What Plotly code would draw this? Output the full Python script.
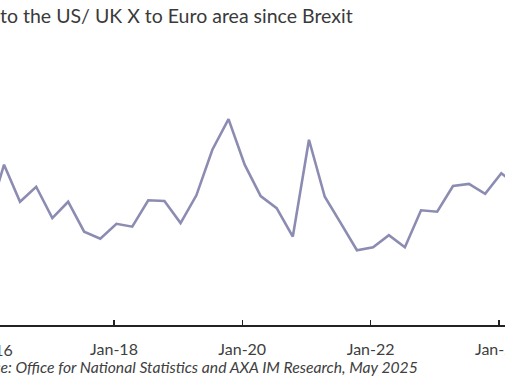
import plotly.graph_objects as go

quarters = ["2016-01-15", "2016-04-15", "2016-07-15", "2016-10-15",
            "2017-01-15", "2017-04-15", "2017-07-15", "2017-10-15",
            "2018-01-15", "2018-04-15", "2018-07-15", "2018-10-15",
            "2019-01-15", "2019-04-15", "2019-07-15", "2019-10-15",
            "2020-01-15", "2020-04-15", "2020-07-15", "2020-10-15",
            "2021-01-15", "2021-04-15", "2021-07-15", "2021-10-15",
            "2022-01-15", "2022-04-15", "2022-07-15", "2022-10-15",
            "2023-01-15", "2023-04-15", "2023-07-15", "2023-10-15",
            "2024-01-15", "2024-04-15"]
ratio = [0.450, 0.525, 0.473, 0.494,
         0.450, 0.473, 0.431, 0.421,
         0.442, 0.438, 0.475, 0.474,
         0.443, 0.482, 0.546, 0.589,
         0.525, 0.481, 0.464, 0.424,
         0.560, 0.480, 0.443, 0.405,
         0.409, 0.426, 0.409, 0.461,
         0.459, 0.495, 0.498, 0.484,
         0.513, 0.496]
tick_dates = ["2016-01-01", "2018-01-01", "2020-01-01", "2022-01-01", "2024-01-01"]
tick_labels = ["Jan-16", "Jan-18", "Jan-20", "Jan-22", "Jan-24"]

title_text = "to the US/ UK X to Euro area since Brexit"
source_text = "Source: Office for National Statistics and AXA IM Research, May 2025"

FONT = "Lato"
W, H = 505, 379
top, bottom = 40, 54
plot_h = H - top - bottom

fig = go.Figure()
fig.add_trace(go.Scatter(x=quarters, y=ratio, mode="lines",
                         line=dict(color="#8c8cb2", width=2.6),
                         hoverinfo="skip", showlegend=False))

fig.update_layout(
    width=W, height=H,
    margin=dict(l=0, r=0, t=top, b=bottom, pad=0, autoexpand=False),
    paper_bgcolor="white", plot_bgcolor="white",
    title=dict(text=title_text, x=0, xanchor="left", xref="container",
               y=1 - 16 / H, yanchor="middle", yref="container",
               font=dict(family=FONT, size=19.5, color="#3a3a3a")),
    xaxis=dict(type="date", range=["2016-03-23", "2024-02-05"],
               tickvals=tick_dates[1:], ticktext=tick_labels[1:],
               ticks="inside", ticklen=5, tickwidth=1.3, tickcolor="#222222",
               showline=True, linecolor="#222222", linewidth=1.6,
               showgrid=False, zeroline=False, ticklabelstandoff=9,
               automargin=False, ticklabeloverflow="allow",
               tickfont=dict(family=FONT, size=16, color="#404040")),
    yaxis=dict(range=[0.3, 0.7], visible=False, showgrid=False, zeroline=False,
               automargin=False),
)

fig.add_annotation(text=tick_labels[0], xref="paper", yref="paper",
                   x=-11 / W, y=-(349 - (H - bottom)) / plot_h,
                   xanchor="center", yanchor="middle", showarrow=False,
                   font=dict(family=FONT, size=16, color="#404040"))
fig.add_annotation(text="<i>" + source_text + "</i>", xref="paper", yref="paper",
                   x=420 / W, y=-(367 - (H - bottom)) / plot_h,
                   xanchor="right", yanchor="middle", showarrow=False,
                   font=dict(family=FONT, size=15.7, color="#404040"))

fig.write_html("out.html", config={"displayModeBar": False, "staticPlot": True},
               post_script="document.body.style.margin='0';document.body.style.overflow='hidden';")
